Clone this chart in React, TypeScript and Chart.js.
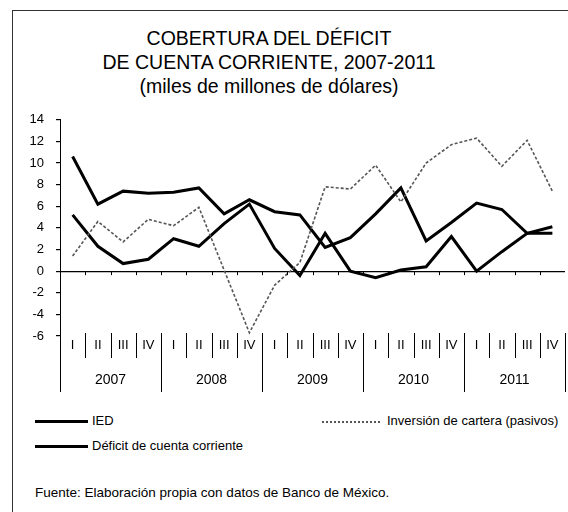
import React, { useEffect, useRef } from "react";
import { Chart, registerables } from "chart.js";

Chart.register(...registerables);

const FONT = "'Liberation Sans', Arial, Helvetica, sans-serif";

const titleLines = [
  "COBERTURA DEL DÉFICIT",
  "DE CUENTA CORRIENTE, 2007-2011",
  "(miles de millones de dólares)",
];

const quarters = [
  "I", "II", "III", "IV",
  "I", "II", "III", "IV",
  "I", "II", "III", "IV",
  "I", "II", "III", "IV",
  "I", "II", "III", "IV",
];
const years = ["2007", "2008", "2009", "2010", "2011"];

const ied = [10.6, 6.2, 7.4, 7.2, 7.3, 7.7, 5.3, 6.6, 5.5, 5.2, 2.2, 3.1, 5.3, 7.7, 2.8, 4.5, 6.3, 5.7, 3.5, 3.5];
const deficit = [5.2, 2.3, 0.7, 1.1, 3.0, 2.3, 4.4, 6.2, 2.1, -0.4, 3.5, 0.0, -0.6, 0.1, 0.4, 3.2, 0.0, 1.8, 3.5, 4.1];
const cartera = [1.4, 4.6, 2.7, 4.8, 4.2, 5.9, 0.1, -5.7, -1.3, 0.8, 7.8, 7.6, 9.8, 6.4, 10.0, 11.7, 12.3, 9.7, 12.1, 7.4];

const yMin = -6;
const yMax = 14;
const yStep = 2;

const seriesNames = ["IED", "Inversión de cartera (pasivos)", "Déficit de cuenta corriente"];
const sourceText = "Fuente: Elaboración propia con datos de Banco de México.";

const separatorsPlugin = {
  id: "separators",
  afterDraw(chart: any) {
    const { ctx, chartArea, scales } = chart;
    const xs = scales.x;
    const ys = scales.y;
    const n = quarters.length;
    const y0 = ys.getPixelForValue(0);
    ctx.save();
    ctx.strokeStyle = "#000";
    ctx.lineWidth = 1;
    for (let i = 0; i <= n; i++) {
      const x = Math.round(xs.getPixelForValue(i - 0.5)) + 0.5;
      const isYear = i % 4 === 0;
      ctx.beginPath();
      ctx.moveTo(x, chartArea.bottom - 3);
      ctx.lineTo(x, chartArea.bottom + (isYear ? 56 : 22));
      ctx.stroke();
      if (i > 0 && i < n) {
        ctx.beginPath();
        ctx.moveTo(x, y0);
        ctx.lineTo(x, y0 + 4);
        ctx.stroke();
      }
    }
    ctx.restore();
  },
};

function ChartCanvas() {
  const ref = useRef<HTMLCanvasElement | null>(null);
  useEffect(() => {
    if (!ref.current) return;
    const chart = new Chart(ref.current, {
      type: "line",
      data: {
        labels: quarters,
        datasets: [
          {
            label: seriesNames[1],
            data: cartera,
            borderColor: "#555",
            borderWidth: 1.6,
            borderDash: [3, 2],
            pointRadius: 0,
            tension: 0,
            fill: false,
          },
          {
            label: seriesNames[2],
            data: deficit,
            borderColor: "#000",
            borderWidth: 3,
            pointRadius: 0,
            tension: 0,
            fill: false,
          },
          {
            label: seriesNames[0],
            data: ied,
            borderColor: "#000",
            borderWidth: 3,
            pointRadius: 0,
            tension: 0,
            fill: false,
          },
        ],
      },
      options: {
        animation: false,
        responsive: false,
        layout: { padding: { top: 16, right: 3, left: 0, bottom: 0 } },
        plugins: {
          legend: { display: false },
          tooltip: { enabled: false },
          title: { display: false },
        },
        scales: {
          x: {
            type: "category",
            position: "bottom",
            weight: 0,
            offset: true,
            grid: { display: false, drawTicks: false },
            border: { display: false },
            ticks: {
              font: { size: 13, family: FONT },
              color: "#000",
              padding: 2,
              maxRotation: 0,
              autoSkip: false,
            },
            afterFit: (s: any) => {
              s.height = 30;
            },
          },
          x2: {
            type: "category",
            labels: years,
            position: "bottom",
            weight: 1,
            offset: true,
            grid: { display: false, drawTicks: false },
            border: { display: false },
            ticks: {
              font: { size: 14, family: FONT },
              color: "#000",
              padding: 6,
              maxRotation: 0,
              autoSkip: false,
            },
            afterFit: (s: any) => {
              s.height = 34;
            },
          },
          y: {
            min: yMin,
            max: yMax,
            ticks: {
              stepSize: yStep,
              font: { size: 13, family: FONT },
              color: "#000",
              padding: 12,
            },
            grid: {
              color: (c: any) => (c.tick && c.tick.value === 0 ? "#000" : "rgba(0,0,0,0)"),
              lineWidth: 1.2,
              tickColor: "#000",
              tickLength: 4,
              drawTicks: true,
            },
            border: { display: true, color: "#000", width: 1 },
            afterFit: (s: any) => {
              s.width = 60;
            },
          },
        },
      },
      plugins: [separatorsPlugin],
    } as any);
    return () => chart.destroy();
  }, []);
  return <canvas ref={ref} width={568} height={300} style={{ display: "block" }} />;
}

export default function App() {
  useEffect(() => {
    document.body.style.margin = "0";
  }, []);
  const txt: React.CSSProperties = {
    position: "absolute",
    fontFamily: FONT,
    fontSize: 13,
    lineHeight: "16px",
    color: "#000",
    whiteSpace: "nowrap",
  };
  return (
    <div
      style={{
        position: "relative",
        width: 568,
        height: 512,
        overflow: "hidden",
        background: "#fff",
        fontFamily: FONT,
      }}
    >
      <div
        style={{
          position: "absolute",
          left: 12,
          top: 10,
          right: -5,
          bottom: -5,
          borderLeft: "1px solid #333",
          borderTop: "1px solid #333",
        }}
      />
      <div
        style={{
          position: "absolute",
          left: 0,
          top: 26,
          width: 538,
          textAlign: "center",
          fontSize: 19.5,
          lineHeight: "24px",
          color: "#000",
        }}
      >
        {titleLines.map((t, i) => (
          <div key={i}>{t}</div>
        ))}
      </div>
      <div style={{ position: "absolute", left: 0, top: 100, width: 568, height: 300 }}>
        <ChartCanvas />
      </div>
      <div style={{ position: "absolute", left: 35, top: 420, width: 53, borderTop: "3px solid #000" }} />
      <div style={{ ...txt, left: 92, top: 413 }}>{seriesNames[0]}</div>
      <div style={{ position: "absolute", left: 322, top: 421, width: 58, borderTop: "2px dotted #555" }} />
      <div style={{ ...txt, left: 387, top: 413 }}>{seriesNames[1]}</div>
      <div style={{ position: "absolute", left: 35, top: 445, width: 53, borderTop: "3px solid #000" }} />
      <div style={{ ...txt, left: 92, top: 438 }}>{seriesNames[2]}</div>
      <div style={{ ...txt, left: 35, top: 485, fontSize: 13.5 }}>{sourceText}</div>
    </div>
  );
}
